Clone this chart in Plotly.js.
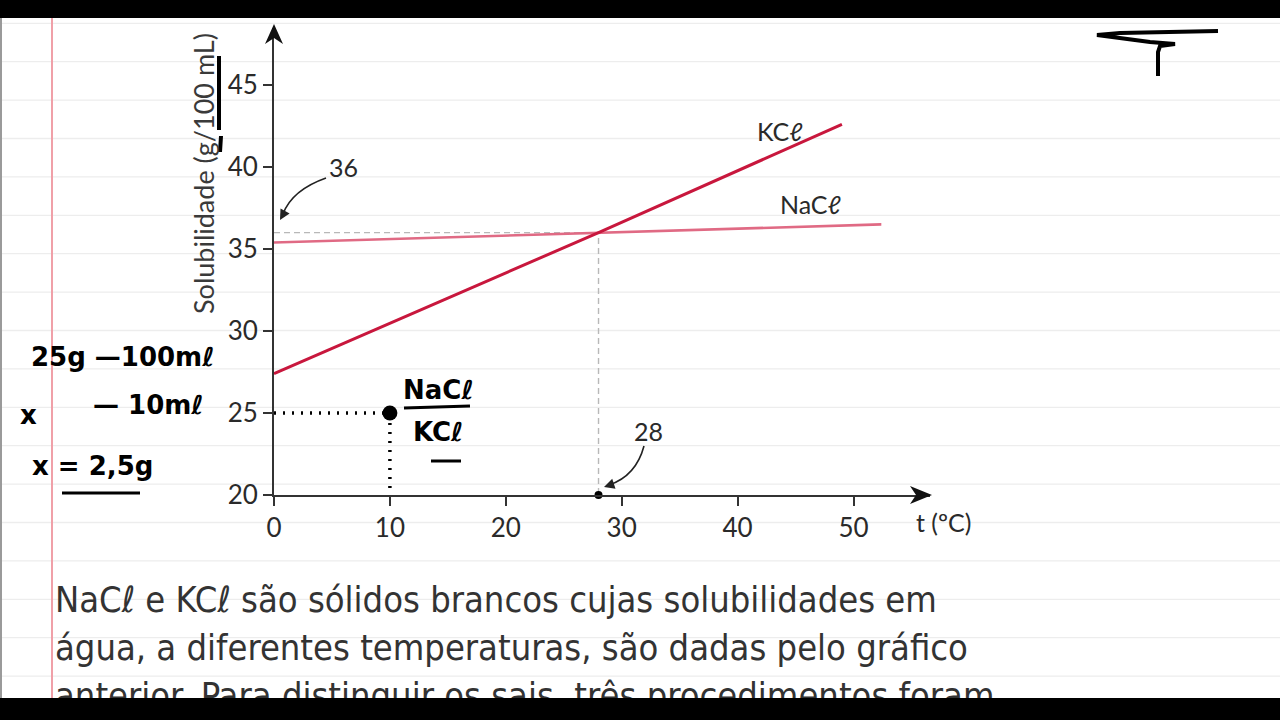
<!DOCTYPE html>
<html>
<head>
<meta charset="utf-8">
<script src="https://cdn.plot.ly/plotly-3.0.1.min.js"></script>
<style>
  html, body { margin: 0; padding: 0; width: 1280px; height: 720px; overflow: hidden; background: #fff; }
  #wrap { position: relative; width: 1280px; height: 720px; background: #fff; }
  #lines { position: absolute; left: 0; top: 0; width: 1280px; height: 720px; }
  #chart { position: absolute; left: 0; top: 0; width: 1280px; height: 720px; }
  .bar { position: absolute; left: 0; width: 1280px; background: #000; z-index: 10; }
  #margin { position: absolute; left: 51px; top: 0; width: 1.5px; height: 720px; background: #f0a0a8; }
  #edge { position: absolute; left: 0; top: 0; width: 2px; height: 720px; background: #9a9a9a; }
</style>
</head>
<body>
<div id="wrap">
  <svg id="lines" width="1280" height="720"></svg>
  <div id="margin"></div>
  <div id="edge"></div>
  <div id="chart"></div>
  <div class="bar" style="top:0;height:18px;"></div>
  <div class="bar" style="top:698px;height:22px;"></div>
</div>
<script>
// ---- data ----
const kclTemps = [0, 28, 49];
const kclSolub = [27.4, 36, 42.6];
const naclTemps = [0, 28, 52.4];
const naclSolub = [35.4, 36, 36.5];
const crossing = { t: 28, s: 36 };
const handPoint = { t: 10, s: 25 };
const xTicks = [0, 10, 20, 30, 40, 50];
const yTicks = [20, 25, 30, 35, 40, 45];
const bodyLines = [
  "NaCℓ e KCℓ são sólidos brancos cujas solubilidades em",
  "água, a diferentes temperaturas, são dadas pelo gráfico",
  "anterior. Para distinguir os sais, três procedimentos foram"
];

// notebook ruled lines
(function () {
  const svg = document.getElementById('lines');
  let s = '';
  for (let y = 23.3; y < 720; y += 38.4) {
    s += '<line x1="0" x2="1280" y1="' + y.toFixed(1) + '" y2="' + y.toFixed(1) + '" stroke="#ededed" stroke-width="1.3"/>';
  }
  svg.innerHTML = s;
})();

// plot geometry (pixels)
const L = 274, R = 930, T = 28, B = 495;
const W = R - L, H = B - T;
const xMax = 56.6, yMin = 20, yMax = 20 + H / 16.4;
const pxX = p => (p - L) / W;        // pixel x -> paper
const pxY = p => (B - p) / H;        // pixel y -> paper
const dX = d => d / W, dY = d => d / H;

const axisCol = '#333';
const font = 'Lato, "Noto Sans", "DejaVu Sans", sans-serif';

const traces = [
  { x: [0, crossing.t, crossing.t], y: [crossing.s, crossing.s, yMin], mode: 'lines',
    line: { color: '#b8b8b8', width: 1.4, dash: '6px,4px' }, hoverinfo: 'skip', showlegend: false },
  { x: naclTemps, y: naclSolub, mode: 'lines', name: 'NaCℓ',
    line: { color: '#e06a84', width: 2.6 }, showlegend: false },
  { x: kclTemps, y: kclSolub, mode: 'lines', name: 'KCℓ',
    line: { color: '#c8173d', width: 3 }, showlegend: false },
  { x: [0, handPoint.t, handPoint.t], y: [handPoint.s, handPoint.s, yMin], mode: 'lines',
    line: { color: '#000', width: 3.5, dash: '2px,7px' }, hoverinfo: 'skip', showlegend: false, cliponaxis: false },
  { x: [handPoint.t], y: [handPoint.s], mode: 'markers', marker: { color: '#000', size: 15 },
    showlegend: false, cliponaxis: false },
  { x: [crossing.t], y: [yMin], mode: 'markers', marker: { color: '#000', size: 8, symbol: 'circle' },
    showlegend: false, cliponaxis: false }
];

const shapes = [
  // x axis arrow head
  { type: 'path', xref: 'paper', yref: 'paper',
    path: `M ${1 + dX(2)},0 L ${1 - dX(20)},${dY(9)} L ${1 - dX(14)},0 L ${1 - dX(20)},${-dY(9)} Z`,
    fillcolor: '#111', line: { width: 0 } },
  // y axis arrow head
  { type: 'path', xref: 'paper', yref: 'paper',
    path: `M 0,${1 + dY(4)} L ${dX(9)},${1 - dY(16)} L 0,${1 - dY(10)} L ${-dX(9)},${1 - dY(16)} Z`,
    fillcolor: '#111', line: { width: 0 } },
  // curved arrow for 36
  { type: 'path', xref: 'paper', yref: 'paper',
    path: `M ${pxX(326)},${pxY(178)} Q ${pxX(292)},${pxY(190)} ${pxX(283)},${pxY(214)}`,
    line: { color: '#222', width: 1.6 } },
  // curved arrow for 28
  { type: 'path', xref: 'paper', yref: 'paper',
    path: `M ${pxX(644)},${pxY(446)} Q ${pxX(636)},${pxY(476)} ${pxX(609)},${pxY(485)}`,
    line: { color: '#222', width: 1.6 } },
  // handwritten strokes near y title
  { type: 'line', xref: 'paper', yref: 'paper', x0: pxX(219), x1: pxX(219), y0: pxY(56), y1: pxY(130),
    line: { color: '#000', width: 4 } },
  { type: 'line', xref: 'paper', yref: 'paper', x0: pxX(221), x1: pxX(220), y0: pxY(136), y1: pxY(152),
    line: { color: '#000', width: 4 } },
  // top-right scribble
  { type: 'path', xref: 'paper', yref: 'paper',
    path: `M ${pxX(1218)},${pxY(31)} L ${pxX(1120)},${pxY(33)} L ${pxX(1097)},${pxY(35)} L ${pxX(1150)},${pxY(42)} L ${pxX(1175)},${pxY(44)} L ${pxX(1160)},${pxY(46)} L ${pxX(1158)},${pxY(52)} L ${pxX(1158)},${pxY(76)}`,
    line: { color: '#000', width: 4 } },
  // underlines of handwriting
  { type: 'line', xref: 'paper', yref: 'paper', x0: pxX(404), x1: pxX(470), y0: pxY(408), y1: pxY(406),
    line: { color: '#000', width: 3 } },
  { type: 'line', xref: 'paper', yref: 'paper', x0: pxX(431), x1: pxX(461), y0: pxY(461), y1: pxY(461),
    line: { color: '#000', width: 3 } },
  { type: 'line', xref: 'paper', yref: 'paper', x0: pxX(62), x1: pxX(140), y0: pxY(493), y1: pxY(493),
    line: { color: '#000', width: 3 } }
];

const ann = (text, x, y, opts) => Object.assign({
  text, xref: 'paper', yref: 'paper', x: pxX(x), y: pxY(y), showarrow: false,
  xanchor: 'center', yanchor: 'middle',
  font: { family: font, size: 25, color: '#2a2a2a' }
}, opts || {});

const hand = { family: '"DejaVu Sans", sans-serif', size: 26, color: '#000', weight: 'bold' };

const annotations = [
  // arrow heads of the curved arrows
  { xref: 'paper', yref: 'paper', x: pxX(280), y: pxY(220), ax: 5, ay: -9, text: '', showarrow: true,
    arrowhead: 2, arrowsize: 1.3, arrowwidth: 1.6, arrowcolor: '#222', standoff: 0 },
  { xref: 'paper', yref: 'paper', x: pxX(604), y: pxY(487), ax: 9, ay: -3, text: '', showarrow: true,
    arrowhead: 2, arrowsize: 1.3, arrowwidth: 1.6, arrowcolor: '#222', standoff: 0 },
  ann(String(crossing.s), 343, 167),
  ann(String(crossing.t), 648, 431),
  ann('KCℓ', 780, 131),
  ann('NaCℓ', 810, 204),
  ann('t (ºC)', 944, 522),
  ann('Solubilidade (g/100 mL)', 203, 174, { textangle: -90, font: { family: font, size: 27, color: '#3a3a3a' } }),
  // handwriting
  ann('NaCℓ', 438, 390, { font: hand }),
  ann('KCℓ', 438, 432, { font: hand }),
  ann('25g —100mℓ', 122, 357, { font: hand }),
  ann('x', 28, 415, { font: hand }),
  ann('— 10mℓ', 148, 405, { font: hand }),
  ann('x = 2,5g', 93, 466, { font: hand })
];
bodyLines.forEach((t, i) => {
  annotations.push(ann(t, 53, 599 + i * 48, {
    xanchor: 'left',
    font: { family: '"Liberation Sans Narrow", "DejaVu Sans Condensed", "Noto Sans", sans-serif', size: 36, color: '#333' }
  }));
});

const layout = {
  width: 1280, height: 720,
  margin: { l: L, r: 1280 - R, t: T, b: 720 - B },
  paper_bgcolor: 'rgba(0,0,0,0)', plot_bgcolor: 'rgba(0,0,0,0)',
  xaxis: {
    range: [0, xMax], tickvals: xTicks, ticktext: xTicks.map(String),
    showgrid: false, zeroline: false, showline: true, linecolor: axisCol, linewidth: 2,
    ticks: 'outside', ticklen: 9, tickwidth: 2, tickcolor: axisCol,
    tickfont: { family: font, size: 26, color: '#2a2a2a' }, fixedrange: true
  },
  yaxis: {
    range: [yMin, yMax], tickvals: yTicks, ticktext: yTicks.map(String),
    showgrid: false, zeroline: false, showline: true, linecolor: axisCol, linewidth: 2,
    ticks: 'outside', ticklen: 9, tickwidth: 2, tickcolor: axisCol,
    tickfont: { family: font, size: 26, color: '#2a2a2a' }, fixedrange: true
  },
  shapes, annotations, showlegend: false
};

Plotly.newPlot('chart', traces, layout, { displayModeBar: false, staticPlot: true });
</script>
</body>
</html>
